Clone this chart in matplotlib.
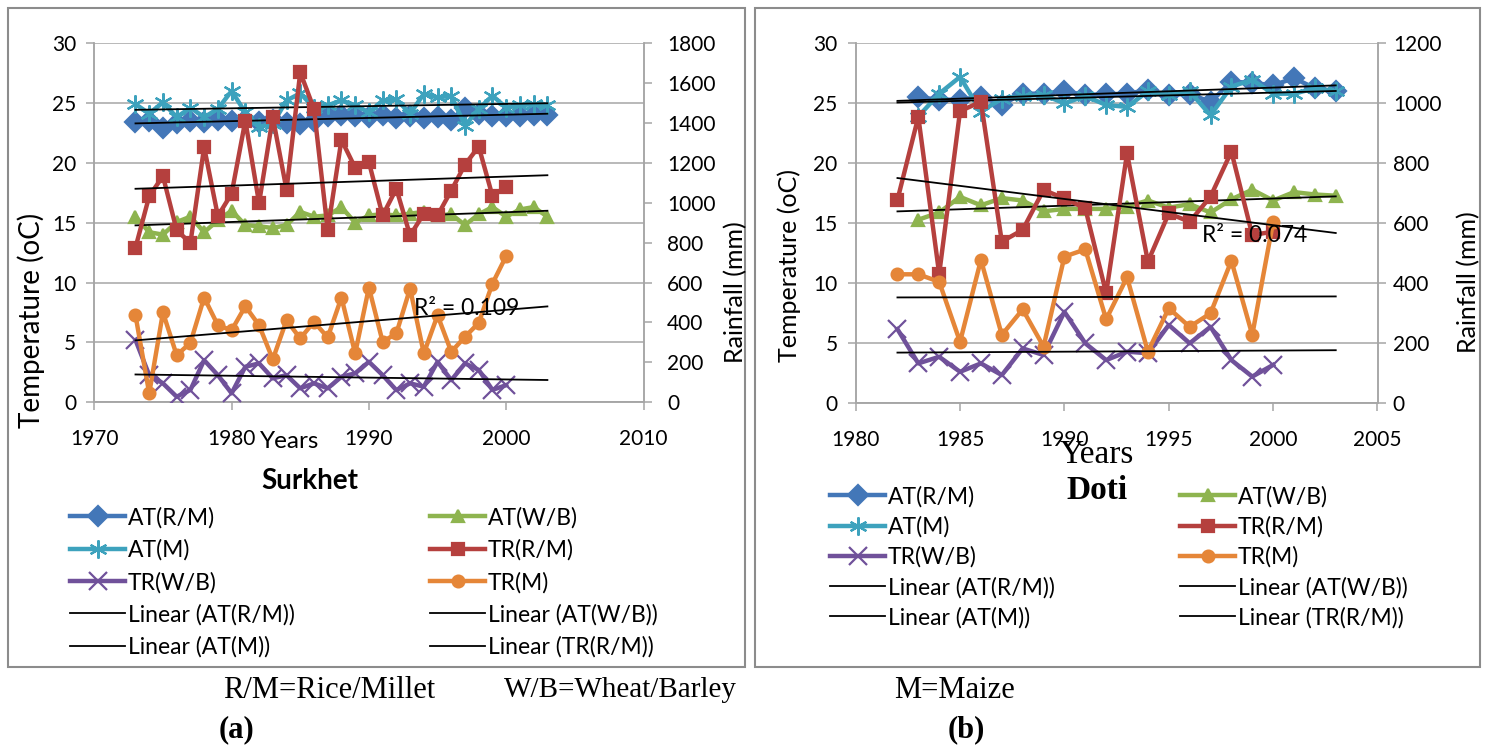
import matplotlib.pyplot as plt
from matplotlib.patches import Rectangle
import numpy as np

plt.rcParams['font.family'] = ['Lato', 'DejaVu Sans']

W, H = 1485, 747

# ---- Surkhet (a) ----
sk_years_at = list(range(1973, 2004))
sk_years_tr = list(range(1973, 2001))
sk_at_rm = [23.4, 23.5, 22.9, 23.3, 23.5, 23.4, 23.6, 23.5, 23.6, 23.4, 23.6, 23.3, 23.2, 23.5, 23.9, 24.0,
            23.9, 23.8, 24.0, 23.7, 23.9, 23.7, 23.8, 23.6, 24.6, 24.1, 23.9, 23.9, 23.9, 24.0, 24.0]
sk_at_wb = [15.5, 14.2, 14.0, 15.05, 15.5, 14.2, 15.2, 16.0, 14.8, 14.7, 14.55, 14.8, 15.9, 15.5, 15.6, 16.3,
            15.0, 15.6, 15.7, 15.6, 15.75, 15.9, 15.6, 15.7, 14.8, 15.7, 16.3, 15.5, 16.1, 16.3, 15.5]
sk_at_m = [24.9, 24.1, 25.05, 23.8, 24.6, 23.8, 24.5, 26.0, 24.2, 23.0, 23.25, 25.2, 25.8, 24.6, 24.8, 25.2,
           24.8, 24.2, 25.2, 25.3, 24.1, 25.75, 25.45, 25.6, 23.1, 24.5, 25.6, 24.6, 24.8, 24.9, 24.8]
sk_tr_rm = [775, 1033, 1133, 862, 798, 1278, 933, 1045, 1411, 998, 1428, 1065, 1653, 1470, 862, 1315,
            1175, 1203, 936, 1070, 836, 945, 936, 1061, 1191, 1281, 1033, 1081]
sk_tr_wb = [312, 136, 95, 28, 62, 211, 136, 45, 178, 195, 120, 136, 70, 95, 70, 128,
            145, 203, 136, 61, 95, 78, 203, 111, 195, 162, 62, 86]
sk_tr_m = [436, 45, 450, 236, 298, 525, 386, 361, 481, 386, 215, 411, 320, 403, 325, 525,
           245, 575, 303, 345, 570, 245, 436, 253, 328, 398, 595, 733]

# ---- Doti (b) ----
dt_years_at = list(range(1983, 2004))
dt_years_tr = list(range(1982, 2001))
dt_at_rm = [25.5, 25.3, 25.3, 25.55, 24.9, 25.8, 25.8, 26.0, 25.7, 25.75, 25.8, 26.1, 25.7, 25.8,
            25.1, 26.8, 26.7, 26.5, 27.1, 26.25, 26.0]
dt_at_wb = [15.3, 15.9, 17.2, 16.5, 17.1, 16.9, 16.0, 16.2, 16.2, 16.2, 16.4, 16.9, 16.3, 16.6,
            15.9, 17.0, 17.8, 16.9, 17.6, 17.4, 17.3]
dt_at_m = [23.9, 25.8, 27.2, 24.3, 25.4, 25.6, 25.7, 25.0, 25.6, 24.86, 24.7, 26.0, 25.7, 26.0,
           24.0, 26.4, 26.95, 25.8, 25.8, 26.25, 26.0]
dt_tr_rm = [678, 955, 431, 974, 1005, 539, 578, 711, 683, 650, 367, 833, 472, 633, 605, 689, 839, 561, 572]
dt_tr_wb = [247, 133, 155, 105, 133, 94, 183, 161, 305, 200, 144, 172, 167, 261, 200, 255, 144, 89, 128]
dt_tr_m = [430, 430, 405, 205, 478, 228, 313, 189, 489, 513, 280, 420, 172, 317, 255, 300, 475, 228, 605]

labels = ['AT(R/M)', 'AT(W/B)', 'AT(M)', 'TR(R/M)', 'TR(W/B)', 'TR(M)']
colors = ['#4377B8', '#8EB44F', '#3DA2BD', '#B5403E', '#70519A', '#E58638']
markers = ['D', '^', (6, 2, 0), 's', 'x', 'o']
msizes = [10, 8.5, 13, 8, 13, 8.5]

GRID = '#a6a6a6'
LEG_FS = 16.5


def fx(x):
    return x / W


def fy(y):
    return 1 - y / H


def panel(box, xlim, xticks, rmax, rpad, at_years, at_vals, tr_years, tr_vals, trend_range, r2_text, r2_pos,
          leg1, leg2, lspace):
    l, r, t, b = box
    ax = fig.add_axes([fx(l), fy(b), fx(r) - fx(l), fy(t) - fy(b)])
    ax2 = ax.twinx()
    ax.set_xlim(*xlim)
    ax.set_ylim(0, 30)
    ax2.set_ylim(0, rmax)
    ax.set_xticks(xticks)
    ax.set_yticks(range(0, 31, 5))
    ax2.set_yticks(range(0, rmax + 1, 200))
    ax.yaxis.grid(True, color=GRID, lw=1.1)
    ax.set_axisbelow(True)
    for a in (ax, ax2):
        for s in a.spines.values():
            s.set_color(GRID)
            s.set_linewidth(1.1)
        a.spines['top'].set_visible(False)
        a.tick_params(length=6, width=1.1, color=GRID, labelsize=15, direction='out')
    ax.tick_params(axis='x', pad=13)
    ax.tick_params(axis='y', pad=7)
    ax2.tick_params(axis='y', pad=rpad)

    handles = {}
    tx = np.array(trend_range, dtype=float)
    for i in range(3):
        h, = ax.plot(at_years, at_vals[i], color=colors[i], marker=markers[i], ms=msizes[i], lw=3.2,
                     mec=colors[i], mfc=colors[i], mew=1.6, label=labels[i], zorder=3)
        handles[labels[i]] = h
    for i in range(3):
        h, = ax2.plot(tr_years, tr_vals[i], color=colors[i + 3], marker=markers[i + 3], ms=msizes[i + 3],
                      lw=3.2, mec=colors[i + 3], mfc=colors[i + 3], mew=1.6, label=labels[i + 3], zorder=3)
        handles[labels[i + 3]] = h
    # linear trendlines
    for i in range(3):
        k, c = np.polyfit(at_years, at_vals[i], 1)
        h, = ax.plot(tx, k * tx + c, color='black', lw=1.3, zorder=6)
        handles['Linear (' + labels[i] + ')'] = h
    for i in range(3):
        k, c = np.polyfit(tr_years, tr_vals[i], 1)
        h, = ax2.plot(tx, k * tx + c, color='black', lw=1.3, zorder=6)
        handles['Linear (' + labels[i + 3] + ')'] = h
    ax2.text(r2_pos[0], r2_pos[1], r2_text, fontsize=16.5, ha='left', va='center', zorder=7)

    col1 = ['AT(R/M)', 'AT(M)', 'TR(W/B)', 'Linear (AT(R/M))', 'Linear (AT(M))']
    col2 = ['AT(W/B)', 'TR(R/M)', 'TR(M)', 'Linear (AT(W/B))', 'Linear (TR(R/M))']
    for cols, pos in ((col1, leg1), (col2, leg2)):
        fig.legend([handles[c] for c in cols], cols, loc='upper left', bbox_to_anchor=(fx(pos[0]), fy(pos[1])),
                   frameon=False, borderpad=0, borderaxespad=0, handlelength=2.4, handletextpad=0.13,
                   labelspacing=lspace, fontsize=LEG_FS, numpoints=1)
    return ax, ax2


fig = plt.figure(figsize=(W / 100, H / 100), dpi=100)

# panel frames
for x0, x1 in ((8, 745), (755, 1480)):
    fig.add_artist(Rectangle((fx(x0), fy(667)), fx(x1) - fx(x0), fy(8) - fy(667), transform=fig.transFigure,
                             fill=False, ec='#8c8c8c', lw=1.5))

panel((94.3, 643.5, 43, 402.3), (1970, 2010), range(1970, 2011, 10), 1800, 11,
      sk_years_at, [sk_at_rm, sk_at_wb, sk_at_m], sk_years_tr, [sk_tr_rm, sk_tr_wb, sk_tr_m],
      (1973, 2003), 'R² = 0.109', (1993.3, 471), (70, 507), (430, 507), 0.47)

panel((855.7, 1377.5, 43.3, 403.3), (1980, 2005), range(1980, 2006, 5), 1200, 5,
      dt_years_at, [dt_at_rm, dt_at_wb, dt_at_m], dt_years_tr, [dt_tr_rm, dt_tr_wb, dt_tr_m],
      (1982, 2003), 'R² = 0.074', (1996.6, 558), (830, 486), (1180, 486), 0.38)

# axis titles
fig.text(fx(31), fy(320), 'Temperature (oC)', rotation=90, ha='center', va='center', fontsize=20)
fig.text(fx(736), fy(292), 'Rainfall (mm)', rotation=90, ha='center', va='center', fontsize=18)
fig.text(fx(789), fy(265), 'Temperature (oC)', rotation=90, ha='center', va='center', fontsize=18)
fig.text(fx(1469), fy(282), 'Rainfall (mm)', rotation=90, ha='center', va='center', fontsize=18)
fig.text(fx(290), fy(442), 'Years', ha='center', va='center', fontsize=17.5)
fig.text(fx(310), fy(481), 'Surkhet', ha='center', va='center', fontsize=20, fontweight='bold')

serif = 'Liberation Serif'
fig.text(fx(1097), fy(455), 'Years', ha='center', va='center', fontsize=24, family=serif)
fig.text(fx(1097), fy(490), 'Doti', ha='center', va='center', fontsize=24, family=serif, fontweight='bold')

fig.text(fx(329), fy(690), 'R/M=Rice/Millet', ha='center', va='center', fontsize=22, family=serif)
fig.text(fx(620), fy(690), 'W/B=Wheat/Barley', ha='center', va='center', fontsize=21, family=serif)
fig.text(fx(955), fy(690), 'M=Maize', ha='center', va='center', fontsize=22, family=serif)
fig.text(fx(237), fy(730), '(a)', ha='center', va='center', fontsize=22, family=serif, fontweight='bold')
fig.text(fx(966), fy(730), '(b)', ha='center', va='center', fontsize=22, family=serif, fontweight='bold')

fig.savefig('out.png', dpi=100)
